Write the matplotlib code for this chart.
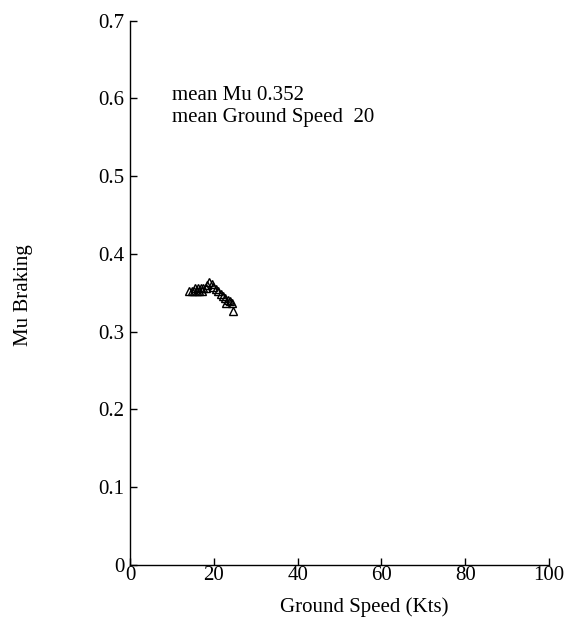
import matplotlib
matplotlib.use("Agg")
import matplotlib.pyplot as plt

# Ground speed (kts) and braking friction samples
ground_speed = [14.1, 14.7, 15.3, 15.9, 16.5, 17.1,
                15.5, 16.3, 16.9, 17.5, 18.1,
                18.3, 18.9, 19.5,
                19.9, 20.5, 21.1, 21.6, 22.3, 22.7, 23.3, 23.8, 24.3, 24.6, 22.9]
mu_braking = [0.353, 0.353, 0.353, 0.353, 0.353, 0.353,
              0.356, 0.356, 0.356, 0.356, 0.356,
              0.360, 0.364, 0.361,
              0.358, 0.355, 0.352, 0.349, 0.346, 0.343, 0.341, 0.339, 0.337, 0.327, 0.337]

mean_mu_text = "mean Mu 0.352"
mean_gs_text = "mean Ground Speed  20"

x_ticks = [0, 20, 40, 60, 80, 100]
y_ticks = [0, 0.1, 0.2, 0.3, 0.4, 0.5, 0.6, 0.7]
y_tick_labels = ["0", "0.1", "0.2", "0.3", "0.4", "0.5", "0.6", "0.7"]

plt.rcParams["font.family"] = ["Liberation Serif", "DejaVu Serif"]
plt.rcParams["font.size"] = 15

fig = plt.figure(figsize=(5.7, 6.19), dpi=100)
ax = fig.add_axes([0.2281, 0.0872, 0.7351, 0.8794])

ax.plot(ground_speed, mu_braking, linestyle="none", marker="^",
        markersize=5.5, markerfacecolor="none", markeredgecolor="black",
        markeredgewidth=1.0)

ax.set_xlim(0, 100)
ax.set_ylim(0, 0.7)
ax.set_xticks(x_ticks)
ax.set_yticks(y_ticks)
ax.set_yticklabels(y_tick_labels)
ax.tick_params(direction="in", length=5, width=1, labelsize=15)
ax.tick_params(axis="x", pad=1)
ax.tick_params(axis="y", pad=4)

for side in ("top", "right"):
    ax.spines[side].set_visible(False)
for side in ("left", "bottom"):
    ax.spines[side].set_linewidth(1)

ax.set_xlabel("Ground Speed (Kts)", fontsize=15, va="center")
ax.xaxis.set_label_coords(0.5585, -0.0772)
ax.set_ylabel("Mu Braking", fontsize=15, va="center")
ax.yaxis.set_label_coords(-0.2554, 0.496)

ax.text(10, 0.604, mean_mu_text, fontsize=15, ha="left", va="center")
ax.text(10, 0.576, mean_gs_text, fontsize=15, ha="left", va="center")

fig.savefig("out.png", dpi=100)
